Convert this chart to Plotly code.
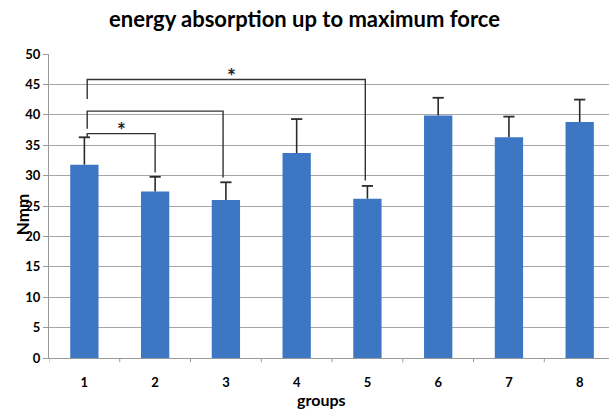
import plotly.graph_objects as go

# Group means and standard deviations (N·mm)
groups = ["1", "2", "3", "4", "5", "6", "7", "8"]
means = [31.8, 27.4, 26.0, 33.7, 26.2, 39.9, 36.3, 38.8]
sds = [4.5, 2.4, 2.9, 5.6, 2.1, 2.9, 3.4, 3.7]
y_ticks = [0, 5, 10, 15, 20, 25, 30, 35, 40, 45, 50]

# Significance brackets: (left x, right x, bar height, left foot, right foot)
brackets = [
    (1.04, 2.00, 36.9, 36.3, 30.5),
    (1.04, 2.96, 40.6, 37.7, 29.7),
    (1.04, 4.97, 45.8, 42.6, 29.2),
]
star_positions = [(1.53, 37.6), (3.08, 46.5)]

xs = list(range(1, len(groups) + 1))
font_family = "Lato, 'Open Sans', Arial, sans-serif"
err_color = "#2b2b2b"

fig = go.Figure()
fig.add_trace(go.Bar(
    x=xs,
    y=means,
    width=0.4,
    marker=dict(color="#3d77c4", line=dict(width=0)),
    showlegend=False,
))

# Upper-only error bars: stem from the mean to mean + SD, capped at the top
stem_x, stem_y = [], []
for x, m, s in zip(xs, means, sds):
    stem_x += [x, x, None]
    stem_y += [m, m + s, None]
fig.add_trace(go.Scatter(
    x=stem_x, y=stem_y, mode="lines",
    line=dict(color=err_color, width=1.6),
    showlegend=False, hoverinfo="skip",
))
fig.add_trace(go.Scatter(
    x=xs, y=[m + s for m, s in zip(means, sds)], mode="markers",
    marker=dict(symbol="line-ew", size=8,
                line=dict(color=err_color, width=1.8)),
    showlegend=False, hoverinfo="skip",
))

# Bracket lines
for x0, x1, yb, yl, yr in brackets:
    fig.add_trace(go.Scatter(
        x=[x0, x0, x1, x1],
        y=[yl, yb, yb, yr],
        mode="lines",
        line=dict(color="#333333", width=1.4),
        showlegend=False,
        hoverinfo="skip",
    ))

for sx, sy in star_positions:
    fig.add_annotation(x=sx, y=sy, text="<b>*</b>", showarrow=False,
                       font=dict(family=font_family, size=21, color="#222222"))

fig.update_layout(
    width=609,
    height=412,
    margin=dict(l=49, r=0, t=54, b=54),
    paper_bgcolor="white",
    plot_bgcolor="white",
    font=dict(family=font_family, color="black"),
    title=dict(text="<b>energy absorption up to maximum force</b>",
               x=0.5, xanchor="center", y=0.953, yanchor="middle",
               font=dict(family=font_family, size=22, color="black")),
)

fig.update_xaxes(
    range=[0.5, 0.5 + (609 - 49) / 70.76],
    tickmode="array",
    tickvals=xs,
    ticktext=[f"<b>{g}</b>" for g in groups],
    tickfont=dict(size=13, color="black"),
    ticks="",
    showline=True,
    linecolor="#9a9a9a",
    linewidth=1,
    showgrid=False,
    zeroline=False,
    ticklabelstandoff=12,
)

# Category boundary tick marks on the x axis
for b in [0.5 + i for i in range(9)]:
    fig.add_shape(type="line", xref="x", yref="paper",
                  x0=b, x1=b, y0=0, y1=-0.014,
                  line=dict(color="#9a9a9a", width=1))

fig.update_yaxes(
    range=[0, 50],
    tickmode="array",
    tickvals=y_ticks,
    ticktext=[f"<b>{t}</b>" for t in y_ticks],
    tickfont=dict(size=13, color="black"),
    ticks="outside",
    ticklen=5,
    tickcolor="#9a9a9a",
    showline=True,
    linecolor="#9a9a9a",
    linewidth=1,
    showgrid=True,
    gridcolor="#a6a6a6",
    gridwidth=1,
    zeroline=False,
)

fig.add_annotation(xref="paper", yref="paper", x=-0.048, y=0.47,
                   text="<b>Nmm</b>", textangle=-90, showarrow=False,
                   xanchor="center", yanchor="middle",
                   font=dict(family=font_family, size=17, color="black"))
fig.add_annotation(xref="paper", yref="paper", x=0.486, y=-0.135,
                   text="<b>groups</b>", showarrow=False,
                   xanchor="center", yanchor="middle",
                   font=dict(family=font_family, size=16, color="black"))

fig.write_html("out.html")
